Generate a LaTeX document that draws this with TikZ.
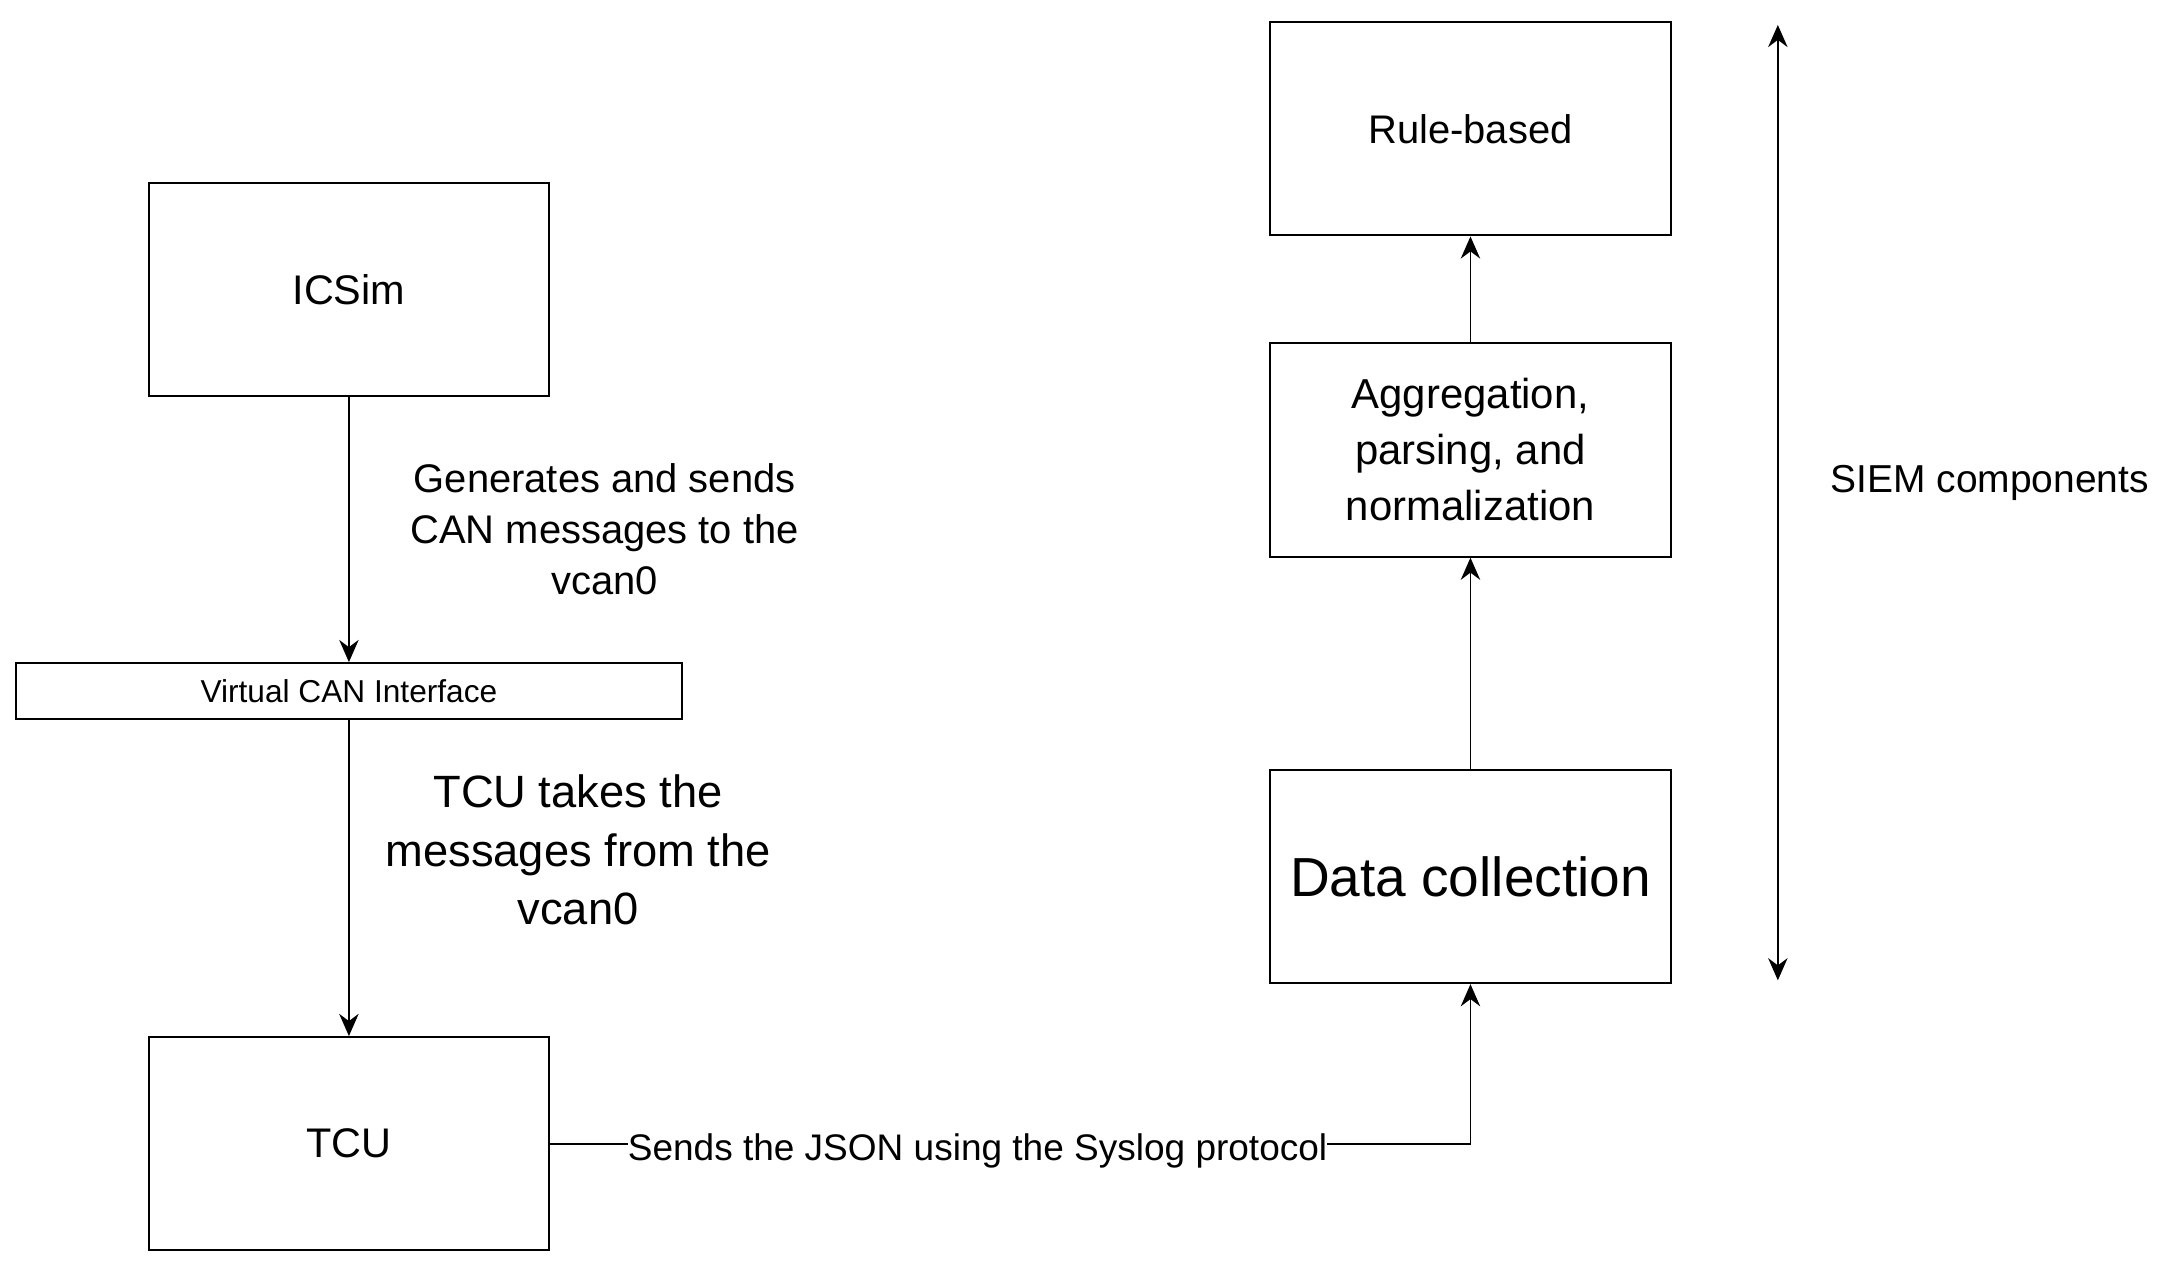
\documentclass[tikz,border=0pt]{standalone}
\usepackage{fontspec}
\setmainfont{Liberation Sans}
\usetikzlibrary{arrows.meta, positioning}

\begin{document}
\begin{tikzpicture}[
      x=0.01cm, y=-0.01cm,
      every node/.style={font=\fontsize{8.5}{11}\selectfont},
      block/.style={rectangle, draw, thin, minimum width=2.89cm, minimum height=1.54cm, align=center},
      flow/.style={draw, thin, -{Stealth[length=1.6mm, width=1.4mm]}},
      note/.style={align=center, font=\fontsize{8.2}{10.5}\selectfont}
    ]
    \useasboundingbox (0,0) rectangle (1560,911);
    % left column
    \node[block] (icsim) at (252,209) {ICSim};
    \node[rectangle, draw, thin, minimum width=4.81cm, minimum height=0.38cm,
          font=\fontsize{6.5}{8}\selectfont] (vcan) at (252,499) {Virtual CAN Interface};
    \node[block] (tcu) at (252,826) {TCU};
    % right column: SIEM
    \node[block, font=\fontsize{8.2}{11}\selectfont] (rule) at (1062,93) {Rule-based};
    \node[block, font=\fontsize{8.6}{11.5}\selectfont] (agg) at (1062,325) {Aggregation,\\parsing, and\\normalization};
    \node[block, font=\fontsize{11.3}{14}\selectfont] (data) at (1062,633) {Data collection};
    \coordinate (top) at (1284,18);
    \coordinate (bot) at (1284,708);
    \coordinate (bend) at (1062,826);

    \draw[flow] (icsim) -- (vcan) node[note, midway, right=0.32cm] {Generates and sends\\CAN messages to the\\vcan0};
    \draw[flow] (vcan) -- (tcu) node[note, midway, right=0.14cm, yshift=0.2cm, font=\fontsize{9.3}{12}\selectfont] {TCU takes the\\messages from the\\vcan0};
    \draw[flow] (tcu.east) -- (bend) -- (data.south);
    \node[fill=white, inner sep=0pt, font=\fontsize{7.6}{9}\selectfont] (syslog) at (706,831) {Sends the JSON using the Syslog protocol};
    \draw[flow] (data) -- (agg);
    \draw[flow] (agg) -- (rule);
    \draw[thin, {Stealth[length=1.6mm, width=1.4mm]}-{Stealth[length=1.6mm, width=1.4mm]}] (top) -- (bot);
    \node[note, font=\fontsize{8}{10}\selectfont] (siem) at (1437,349) {SIEM components};
\end{tikzpicture}
\end{document}
